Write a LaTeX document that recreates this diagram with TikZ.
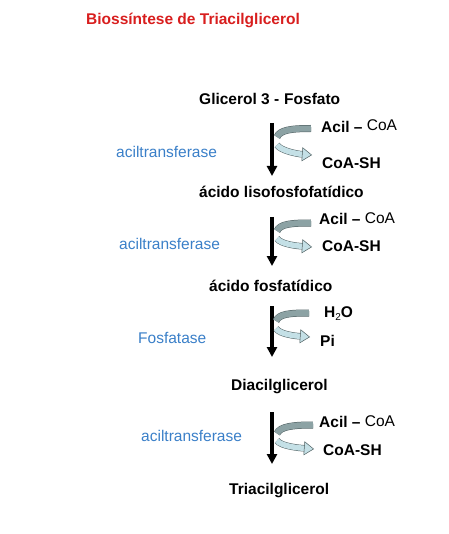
\documentclass[tikz,border=0pt]{standalone}
\usepackage{fontspec}
\setmainfont{Liberation Sans}
\usetikzlibrary{arrows.meta}
\definecolor{titlered}{RGB}{216,30,30}
\definecolor{enzblue}{RGB}{58,127,200}
\definecolor{bandgrey}{RGB}{140,162,164}
\definecolor{bandlight}{RGB}{196,224,230}
\definecolor{bandedge}{RGB}{80,96,98}
\begin{document}
\begin{tikzpicture}[x=1pt, y=-1pt, >={Triangle[length=10pt, width=10pt]},
  every node/.style={inner sep=0pt, anchor=west, text height=11pt, text depth=3pt, font=\fontsize{15.5}{18}\selectfont},
  compound/.style={font=\fontsize{15.5}{18}\selectfont\bfseries},
  enzyme/.style={text=enzblue},
  reaction/.style={->, line width=3.5pt},
  inband/.style={draw=bandedge, double=bandgrey, double distance=6pt, line width=0.5pt},
  outband/.style={draw=bandedge, double=bandlight, double distance=5.5pt, line width=0.5pt,
    -{Triangle[length=10pt, width=14pt, line width=0.5pt, color=bandedge, fill=bandlight]}}]
\useasboundingbox (0,0) rectangle (448,534);
\node[compound, text=titlered] (title) at (86,21) {Biossíntese de Triacilglicerol};
\node[compound] (glic) at (199,101) {Glicerol 3 -};
\node[compound] (fosf) at (284,100.5) {Fosfato};
\node[compound] (s1) at (199,194) {ácido lisofosfofatídico};
\node[compound] (s2) at (209,287) {ácido fosfatídico};
\node[compound] (s3) at (231,386) {Diacilglicerol};
\node[compound] (s4) at (229,490) {Triacilglicerol};
% enzimas
\node[enzyme] (e1) at (116,153.5) {aciltransferase};
\node[enzyme] (e2) at (119,245.5) {aciltransferase};
\node[enzyme] (e3) at (138,339.5) {Fosfatase};
\node[enzyme] (e4) at (141,437.5) {aciltransferase};
% cofatores
\node (in1) at (321,128.5) {\textbf{Acil –} \raisebox{1.5pt}{CoA}};
\node[compound] (out1) at (322,164.5) {CoA-SH};
\node (in2) at (319,220.5) {\textbf{Acil –} \raisebox{1.5pt}{CoA}};
\node[compound] (out2) at (322,247.5) {CoA-SH};
\node[compound] (in3) at (324,313.5) {H\raisebox{-3pt}{\fontsize{10}{10}\selectfont\mdseries 2}O};
\node[compound] (out3) at (320,342.5) {Pi};
\node (in4) at (319,423.5) {\textbf{Acil –} \raisebox{1.5pt}{CoA}};
\node[compound] (out4) at (323,451.5) {CoA-SH};
% setas principais
\coordinate (r1a) at (272,123); \coordinate (r1b) at (272,176);
\coordinate (r2a) at (272,217); \coordinate (r2b) at (272,266);
\coordinate (r3a) at (272,306); \coordinate (r3b) at (272,357);
\coordinate (r4a) at (272,412); \coordinate (r4b) at (272,464);
\draw[reaction] (r1a) -- (r1b);
\draw[reaction] (r2a) -- (r2b);
\draw[reaction] (r3a) -- (r3b);
\draw[reaction] (r4a) -- (r4b);
% setas curvas
\coordinate (u1s) at (311,128.5); \coordinate (u1e) at (277,137);
\coordinate (l1s) at (277,145);   \coordinate (l1e) at (312,155);
\coordinate (u2s) at (311,223);   \coordinate (u2e) at (277,231);
\coordinate (l2s) at (277,238.5); \coordinate (l2e) at (312,247);
\coordinate (u3s) at (309,313);   \coordinate (u3e) at (276,321);
\coordinate (l3s) at (276,328.5); \coordinate (l3e) at (310,337);
\coordinate (u4s) at (313,425);   \coordinate (u4e) at (277,433.5);
\coordinate (l4s) at (277,440.5); \coordinate (l4e) at (314,449);
\draw[inband] (u1s) .. controls +(-20,0) and +(3,-7) .. (u1e);
\draw[outband] (l1s) .. controls +(4,6) and +(-14,-1) .. (l1e);
\draw[inband] (u2s) .. controls +(-20,0) and +(3,-7) .. (u2e);
\draw[outband] (l2s) .. controls +(4,6) and +(-14,-1) .. (l2e);
\draw[inband] (u3s) .. controls +(-20,0) and +(3,-7) .. (u3e);
\draw[outband] (l3s) .. controls +(4,6) and +(-14,-1) .. (l3e);
\draw[inband] (u4s) .. controls +(-20,0) and +(3,-7) .. (u4e);
\draw[outband] (l4s) .. controls +(4,6) and +(-14,-1) .. (l4e);
\end{tikzpicture}
\end{document}
